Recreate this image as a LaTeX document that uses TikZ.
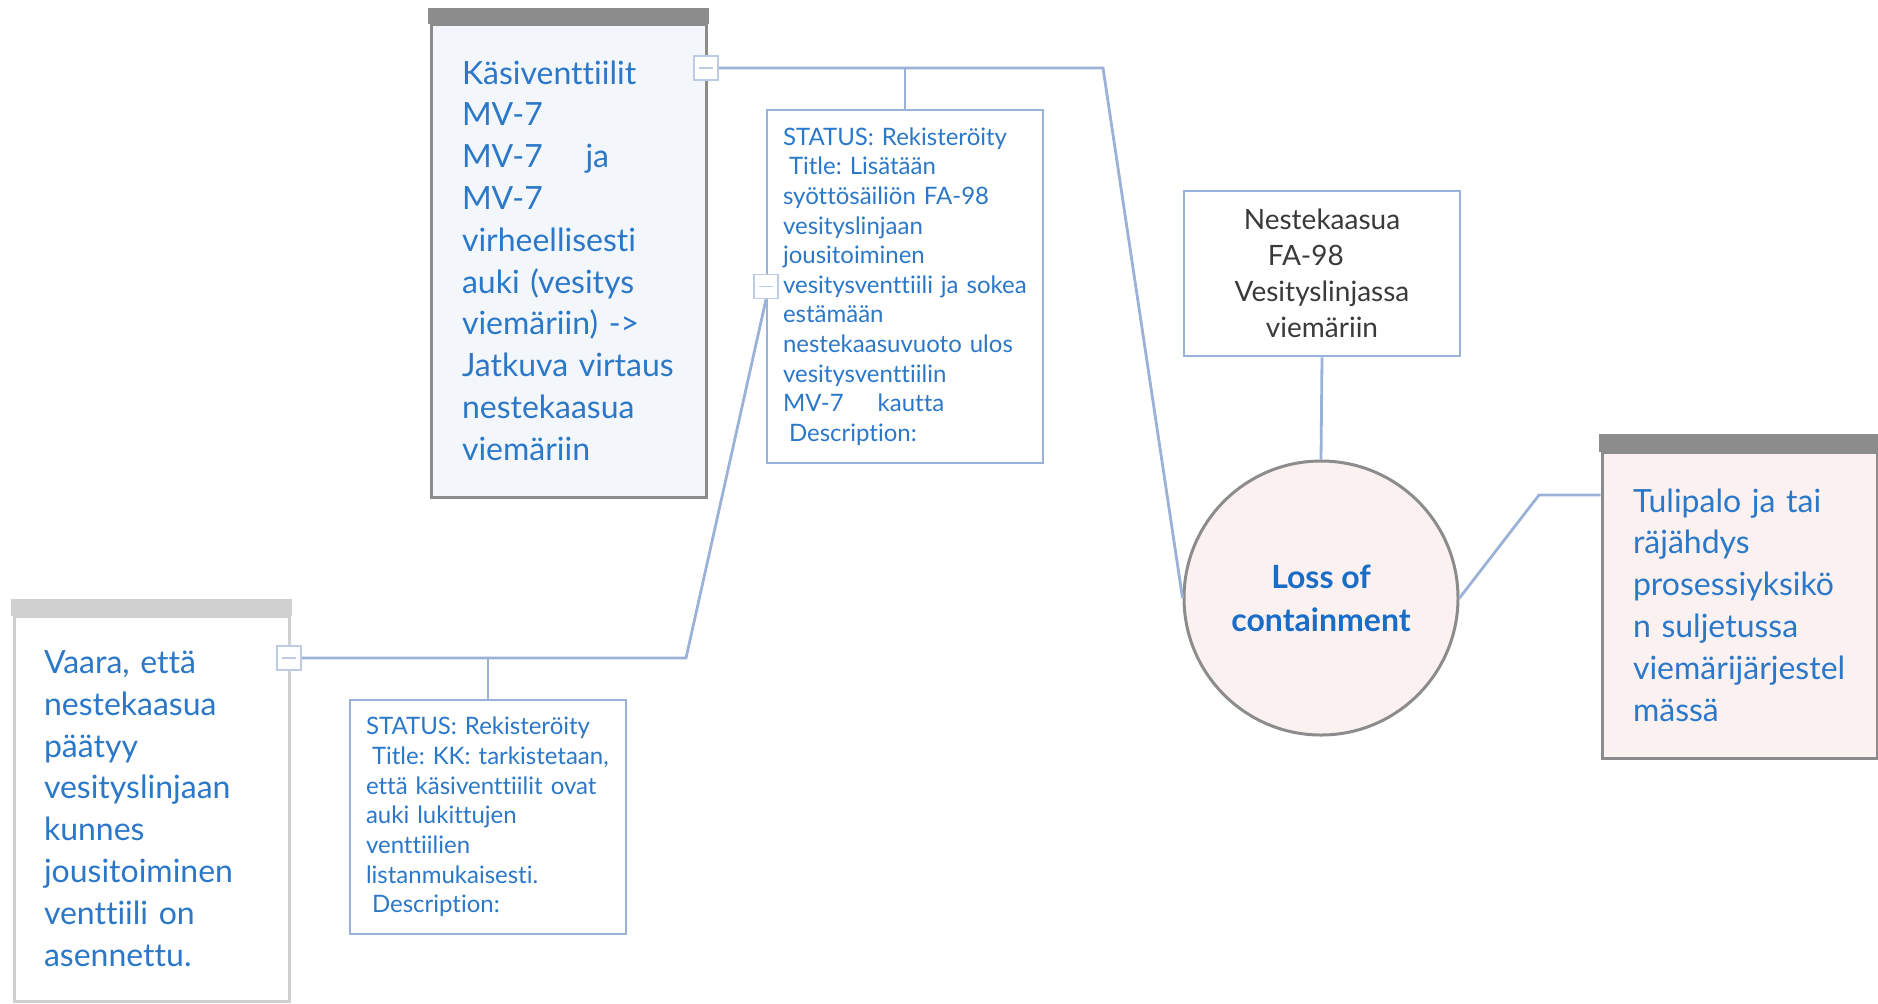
\documentclass[tikz,border=0pt]{standalone}
\usepackage{fontspec}
\setmainfont{Lato}[Ligatures=NoCommon]
\frenchspacing
\hyphenpenalty=10000
\exhyphenpenalty=10000
\definecolor{lineblue}{RGB}{155,178,216}
\definecolor{txtblue}{RGB}{44,120,200}
\definecolor{circblue}{RGB}{26,109,198}
\definecolor{graybd}{RGB}{140,140,140}
\definecolor{lightbd}{RGB}{208,208,208}
\definecolor{togglebd}{RGB}{190,203,228}
\definecolor{threatfill}{RGB}{243,246,250}
\definecolor{pinkfill}{RGB}{252,241,241}
\definecolor{darktxt}{RGB}{58,58,58}
\tikzset{
  conn/.style={draw=lineblue, line width=1.4pt},
  bigtxt/.style={font=\fontsize{16}{20.9}\selectfont, text=txtblue, align=left},
  smalltxt/.style={font=\fontsize{12}{14.8}\selectfont, text=txtblue, align=left},
  threatbox/.style={draw=graybd, fill=threatfill, line width=1.5pt, bigtxt,
    minimum width=137.5pt, text width=106.5pt, inner xsep=15.5pt},
  conseqbox/.style={draw=graybd, fill=pinkfill, line width=1.5pt, bigtxt,
    minimum width=137.5pt, text width=106.5pt, inner xsep=15.5pt},
  escbox/.style={draw=lightbd, fill=white, line width=1.5pt, bigtxt,
    minimum width=137.5pt, text width=107.5pt, inner xsep=15pt},
  barrierbox/.style={draw=lineblue, fill=white, line width=1pt, smalltxt,
    minimum width=138pt, text width=122pt, inner xsep=8pt},
  hazardbox/.style={draw=lineblue, fill=white, line width=1.4pt,
    font=\fontsize{14}{18}\selectfont, text=darktxt, align=center,
    minimum width=138pt, text width=128pt, inner xsep=5pt},
  topevent/.style={circle, draw=graybd, fill=pinkfill, line width=1.5pt,
    minimum size=137pt, inner sep=0pt, text=circblue, align=center,
    font=\bfseries\fontsize{16}{21.5}\selectfont},
  toggle/.style={draw=togglebd, fill=white, line width=0.9pt, minimum size=12pt, inner sep=0pt,
    path picture={\draw[togglebd, line width=0.9pt]
      ([xshift=-3.5pt]path picture bounding box.center) -- ([xshift=3.5pt]path picture bounding box.center);}}
}
\begin{document}
\begin{tikzpicture}[x=0.5pt,y=0.5pt,yscale=-1,xscale=1]
\useasboundingbox (0,0) rectangle (1878,1003);

%Shape: Rectangle (threat)
\node[threatbox, minimum height=236.5pt] (b1) at (568.5,260.5) {K\"asiventtiilit\\
MV-7\\
MV-7\hspace{16pt} ja\\
MV-7\\
virheellisesti\\
auki~(vesitys\\
viem\"ariin)~->\\
Jatkuva~virtaus\\
nestekaasua\\
viem\"ariin};
\filldraw[draw=graybd, fill=graybd, line width=1.5pt] (b1.north west) rectangle ([yshift=-6.5pt]b1.north east);

%Shape: Rectangle (barrier 1)
\node[barrierbox, minimum height=176.5pt] (b2) at (905,286.5) {STATUS:~Rekister\"oity\\
\hspace*{3pt}Title:~Lis\"at\"a\"an\\
sy\"ott\"os\"aili\"on~FA-98\\
vesityslinjaan\\
jousitoiminen\\
vesitysventtiili~ja~sokea\\
est\"am\"a\"an\\
nestekaasuvuoto~ulos\\
vesitysventtiilin\\
MV-7\hspace{13pt}~kautta\\
\hspace*{3pt}Description:};

%Shape: Rectangle (escalation factor)
\node[escbox, minimum height=192.5pt] (b4) at (151.5,808.5) {Vaara,~ett\"a\\
nestekaasua\\
p\"a\"atyy\\
vesityslinjaan\\
kunnes\\
jousitoiminen\\
venttiili~on\\
asennettu.};
\filldraw[draw=lightbd, fill=lightbd, line width=1.5pt] (b4.north west) rectangle ([yshift=-7pt]b4.north east);

%Shape: Rectangle (barrier 2)
\node[barrierbox, minimum height=117pt] (b3) at (488,817) {STATUS:~Rekister\"oity\\
\hspace*{3pt}Title:~KK:~tarkistetaan,\\
ett\"a~k\"asiventtiilit~ovat\\
auki~lukittujen\\
venttiilien\\
listanmukaisesti.\\
\hspace*{3pt}Description:};

%Shape: Rectangle (hazard)
\node[hazardbox, minimum height=82.5pt] (b5) at (1322,273.5) {Nestekaasua\\
FA-98\phantom{00}\\
Vesityslinjassa\\
viem\"ariin};

%Shape: Circle (top event)
\node[topevent] (toc) at (1321,598) {Loss of\\containment};

%Shape: Rectangle (consequence)
\node[conseqbox, minimum height=153pt] (b6) at (1739.5,605) {Tulipalo~ja~tai\\
r\"aj\"ahdys\\
prosessiyksik\"o\\
n~suljetussa\\
viem\"arij\"arjestel\\
m\"ass\"a};
\filldraw[draw=graybd, fill=graybd, line width=1.5pt] (b6.north west) rectangle ([yshift=-7.5pt]b6.north east);

% Toggles
\node[toggle] (tg1) at (706,68) {};
\node[toggle] (tg2) at (b2.west) {};
\node[toggle] (tg3) at (289,658) {};

\coordinate (k1) at (1103,68);
\coordinate (k2) at (686,658);
\coordinate (k3) at (1539,495);

%Straight Lines
\draw[conn] (tg1.east) -- (k1) -- (toc.west);
\draw[conn] (b2.north) -- (b2.north |- k1);
%Straight Lines
\draw[conn] (tg2.south) -- (k2) -- (tg3.east);
\draw[conn] (b3.north) -- (b3.north |- k2);
%Straight Lines
\draw[conn] (b5.south) -- (toc.north);
\draw[conn] (toc.east) -- (k3) -- (k3 -| b6.west);
\end{tikzpicture}
\end{document}
